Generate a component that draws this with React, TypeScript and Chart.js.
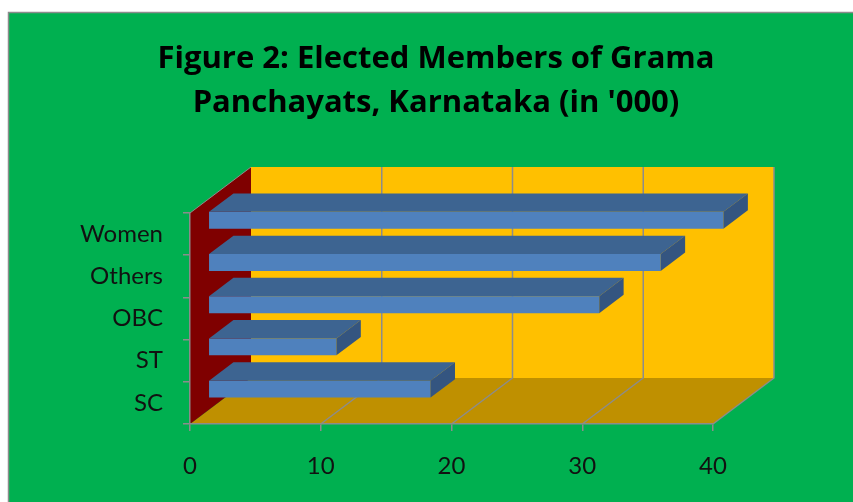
import React, { useEffect, useRef } from 'react';
import { Chart, registerables } from 'chart.js';

Chart.register(...registerables);

// ---- data ----
const categories = ['SC', 'ST', 'OBC', 'Others', 'Women'];
const members = [17.0, 9.8, 29.9, 34.6, 39.4];
const xTickValues = [0, 10, 20, 30, 40];
const titleLines = ['Figure 2: Elected Members of Grama', "Panchayats, Karnataka (in '000)"];

// ---- style ----
const W = 853;
const H = 502;
const FONT = 'Lato, "Open Sans", "Liberation Sans", sans-serif';
const TITLE_FONT = '"Open Sans", Lato, "Liberation Sans", sans-serif';
const DEPTH_DX = 61;
const DEPTH_DY = -46;
const BAR_Z0 = 0.3;
const BAR_Z1 = 0.7;
const C = {
  page: '#ffffff',
  bg: '#00B050',
  frame: '#8c8c8c',
  backWall: '#FFC000',
  floor: '#BF9000',
  sideWall: '#7F0000',
  grid: '#8c8c8c',
  barFront: '#4F81BD',
  barTop: '#3D6491',
  barSide: '#345580',
  text: '#111111',
};

function poly(ctx: CanvasRenderingContext2D, pts: number[][], fill: string) {
  ctx.beginPath();
  ctx.moveTo(pts[0][0], pts[0][1]);
  for (let i = 1; i < pts.length; i++) ctx.lineTo(pts[i][0], pts[i][1]);
  ctx.closePath();
  ctx.fillStyle = fill;
  ctx.fill();
}

function line(ctx: CanvasRenderingContext2D, pts: number[][]) {
  ctx.beginPath();
  ctx.moveTo(pts[0][0], pts[0][1]);
  for (let i = 1; i < pts.length; i++) ctx.lineTo(pts[i][0], pts[i][1]);
  ctx.stroke();
}

const threeD = {
  id: 'threeD',
  beforeDraw(chart: any) {
    const { ctx, chartArea: a } = chart;
    const xs = chart.scales.x;
    const dx = DEPTH_DX;
    const dy = DEPTH_DY;
    ctx.save();
    ctx.fillStyle = C.page;
    ctx.fillRect(0, 0, W, H);
    ctx.fillStyle = C.bg;
    ctx.fillRect(8, 12, W - 8, H - 12);
    ctx.strokeStyle = C.frame;
    ctx.lineWidth = 1.5;
    line(ctx, [[8.5, H], [8.5, 12.5], [W, 12.5]]);

    // back wall
    poly(ctx, [[a.left + dx, a.top + dy], [a.right + dx, a.top + dy], [a.right + dx, a.bottom + dy], [a.left + dx, a.bottom + dy]], C.backWall);
    // floor
    poly(ctx, [[a.left, a.bottom], [a.right, a.bottom], [a.right + dx, a.bottom + dy], [a.left + dx, a.bottom + dy]], C.floor);
    // side wall
    poly(ctx, [[a.left, a.top], [a.left + dx, a.top + dy], [a.left + dx, a.bottom + dy], [a.left, a.bottom]], C.sideWall);

    ctx.strokeStyle = C.grid;
    ctx.lineWidth = 1.5;
    for (const v of xTickValues) {
      if (v === xTickValues[0]) continue;
      const px = xs.getPixelForValue(v);
      line(ctx, [[px, a.bottom], [px + dx, a.bottom + dy], [px + dx, a.top + dy]]);
    }
    ctx.lineWidth = 1;
    line(ctx, [[a.left, a.top], [a.left + dx, a.top + dy]]);
    ctx.restore();
  },
  beforeDatasetsDraw(chart: any) {
    chart.ctx.save();
    chart.ctx.translate(BAR_Z0 * DEPTH_DX, BAR_Z0 * DEPTH_DY);
  },
  afterDatasetsDraw(chart: any) {
    const ctx = chart.ctx;
    ctx.restore();
    const sx = BAR_Z0 * DEPTH_DX;
    const sy = BAR_Z0 * DEPTH_DY;
    const ddx = (BAR_Z1 - BAR_Z0) * DEPTH_DX;
    const ddy = (BAR_Z1 - BAR_Z0) * DEPTH_DY;
    const meta = chart.getDatasetMeta(0);
    ctx.save();
    meta.data.forEach((el: any) => {
      const p = el.getProps(['x', 'y', 'base', 'height'], true);
      const top = p.y - p.height / 2 + sy;
      const bot = p.y + p.height / 2 + sy;
      const l = p.base + sx;
      const r = p.x + sx;
      poly(ctx, [[l, top], [r, top], [r + ddx, top + ddy], [l + ddx, top + ddy]], C.barTop);
      poly(ctx, [[r, top], [r, bot], [r + ddx, bot + ddy], [r + ddx, top + ddy]], C.barSide);
    });
    ctx.restore();
  },
};

export default function App() {
  const ref = useRef<HTMLCanvasElement | null>(null);
  useEffect(() => {
    document.body.style.margin = '0';
    const canvas = ref.current!;
    const chart = new Chart(canvas, {
      type: 'bar',
      data: {
        labels: categories,
        datasets: [
          {
            data: members,
            backgroundColor: C.barFront,
            borderWidth: 0,
            categoryPercentage: 1,
            barPercentage: 0.4,
            clip: false as any,
          },
        ],
      },
      options: {
        indexAxis: 'y',
        animation: false,
        responsive: false,
        maintainAspectRatio: false,
        layout: { padding: { left: 60, right: 41, top: 0, bottom: 0 } },
        plugins: {
          legend: { display: false },
          tooltip: { enabled: false },
          title: {
            display: true,
            text: titleLines,
            color: '#000',
            font: { family: TITLE_FONT, size: 31, weight: 'bold', lineHeight: 44 / 31 },
            padding: { top: 37, bottom: 88 },
          },
        },
        scales: {
          x: {
            min: 0,
            max: 40,
            afterFit: (s: any) => { s.height = 78; },
            afterBuildTicks: (s: any) => { s.ticks = xTickValues.map((v) => ({ value: v })); },
            grid: { display: true, drawOnChartArea: false, drawTicks: true, tickLength: 7, color: C.grid, lineWidth: 1.5 },
            border: { display: true, color: C.grid, width: 1.5 },
            ticks: { color: C.text, font: { family: FONT, size: 24 }, padding: 21, maxRotation: 0 },
          },
          y: {
            reverse: true,
            afterFit: (s: any) => { s.width = 130; },
            grid: { display: true, drawOnChartArea: false, drawTicks: true, tickLength: 7, color: C.grid, lineWidth: 1.5 },
            border: { display: true, color: C.grid, width: 1.5 },
            ticks: { color: C.text, font: { family: FONT, size: 24 }, padding: 20 },
          },
          yRight: {
            type: 'category',
            position: 'right',
            display: true,
            afterFit: (s: any) => { s.width = 99; },
            grid: { display: false, drawTicks: false },
            border: { display: false },
            ticks: { display: false },
          },
        },
      },
      plugins: [threeD],
    });
    return () => chart.destroy();
  }, []);
  return <canvas ref={ref} width={W} height={H} style={{ display: 'block' }} />;
}
